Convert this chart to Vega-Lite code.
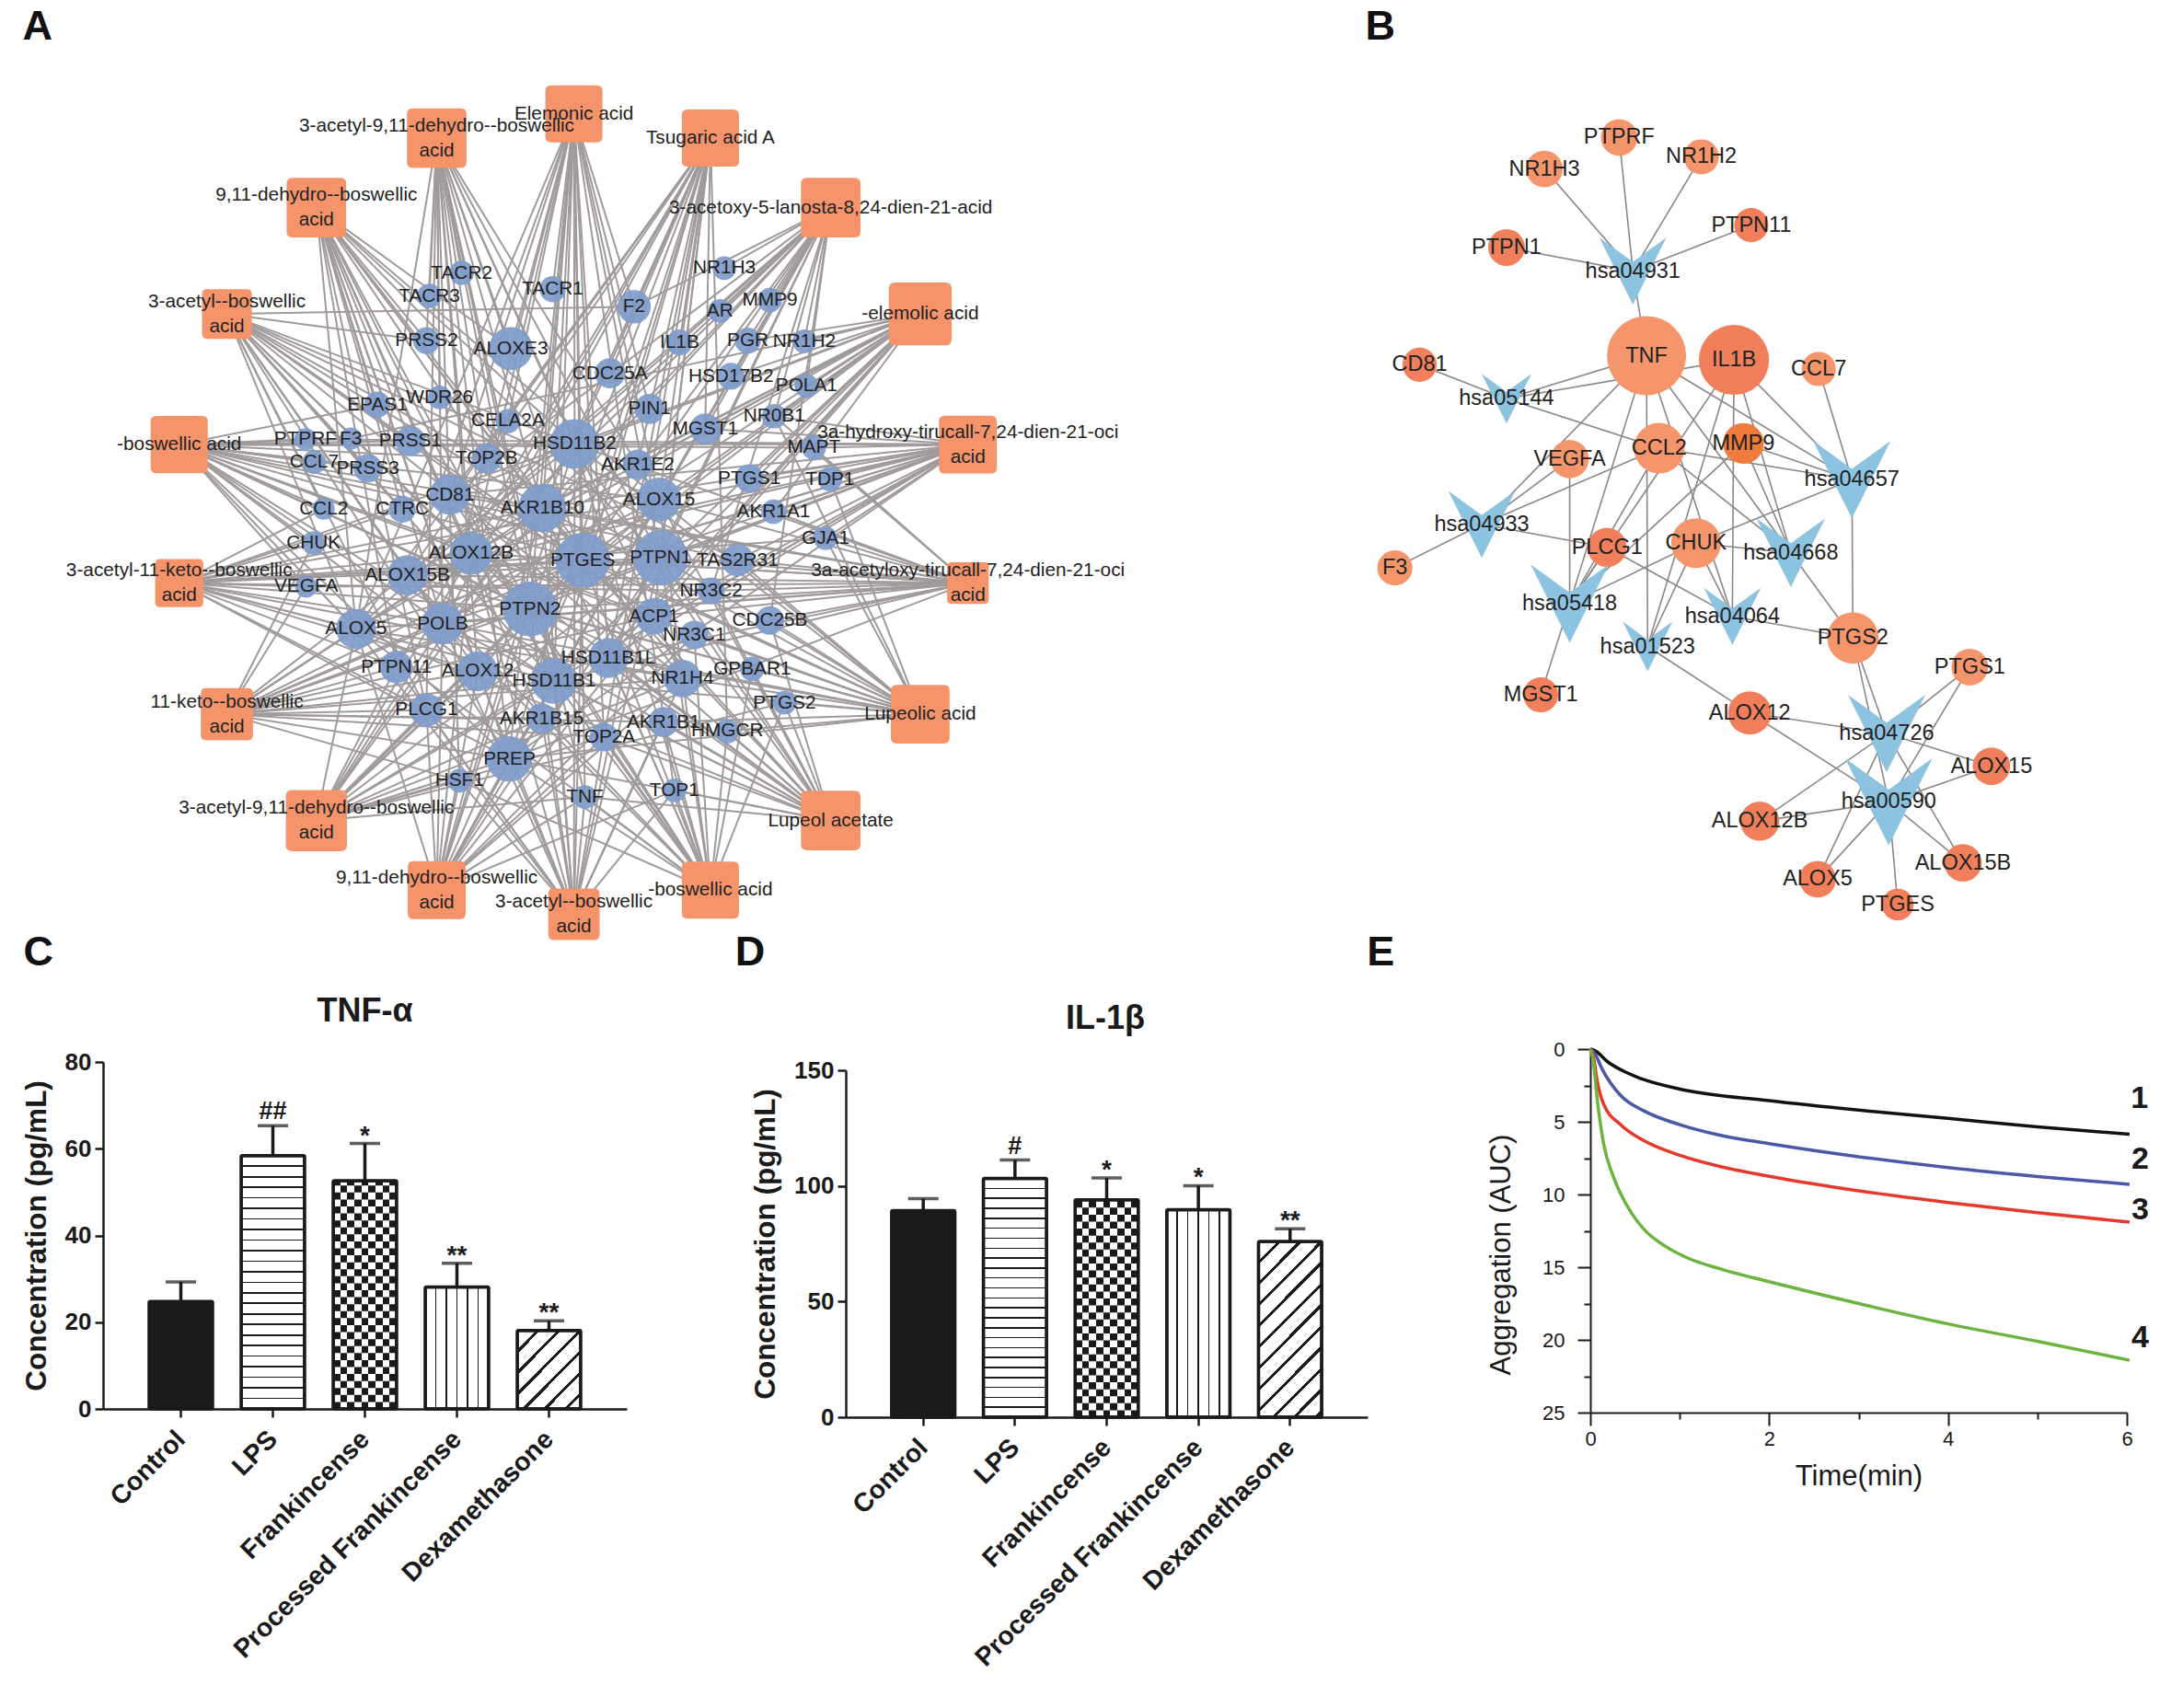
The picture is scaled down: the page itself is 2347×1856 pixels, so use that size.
{
"$schema":"https://vega.github.io/schema/vega-lite/v6.json",
"background":"white",
"padding":{"left":24,"top":7,"right":0,"bottom":0},
"columns":3,"align":"none","bounds":"flush","spacing":{"row":81,"column":238},
"resolve":{"scale":{"color":"independent"}},
"config":{"view":{"stroke":null},
"text":{"font":"Liberation Sans"},
"title":{"font":"Liberation Sans"},
"axis":{"grid":false,"domainColor":"#1a1a1a","tickColor":"#1a1a1a","labelColor":"#1a1a1a","titleColor":"#1a1a1a","labelFont":"Liberation Sans","titleFont":"Liberation Sans","domainWidth":2.5,"tickWidth":2.5,"labelLimit":500,"titleLimit":600,"labelOverlap":false,"labelFlush":false}
},
"datasets":{
"nodesA":[
{"id":"c1","name":"Elemonic acid","kind":"compound","x":781,"y":190,"deg":70},
{"id":"c2","name":"3-acetyl-9,11-dehydro--boswellic\nacid","kind":"compound","x":594,"y":230,"deg":73},
{"id":"c3","name":"Tsugaric acid A","kind":"compound","x":967,"y":230,"deg":70},
{"id":"c4","name":"9,11-dehydro--boswellic\nacid","kind":"compound","x":430,"y":345,"deg":73},
{"id":"c5","name":"3-acetoxy-5-lanosta-8,24-dien-21-acid","kind":"compound","x":1131,"y":345,"deg":73},
{"id":"c6","name":"3-acetyl--boswellic\nacid","kind":"compound","x":308,"y":521,"deg":61},
{"id":"c7","name":"-elemolic acid","kind":"compound","x":1253,"y":521,"deg":77},
{"id":"c8","name":"-boswellic acid","kind":"compound","x":243,"y":737,"deg":70},
{"id":"c9","name":"3a-hydroxy-tirucall-7,24-dien-21-oci\nacid","kind":"compound","x":1318,"y":737,"deg":71},
{"id":"c10","name":"3-acetyl-11-keto--boswellic\nacid","kind":"compound","x":243,"y":966,"deg":59},
{"id":"c11","name":"3a-acetyloxy-tirucall-7,24-dien-21-oci\nacid","kind":"compound","x":1318,"y":966,"deg":51},
{"id":"c12","name":"11-keto--boswellic\nacid","kind":"compound","x":308,"y":1183,"deg":64},
{"id":"c13","name":"Lupeolic acid","kind":"compound","x":1253,"y":1183,"deg":72},
{"id":"c14","name":"3-acetyl-9,11-dehydro--boswellic\nacid","kind":"compound","x":430,"y":1359,"deg":75},
{"id":"c15","name":"Lupeol acetate","kind":"compound","x":1131,"y":1359,"deg":73},
{"id":"c16","name":"9,11-dehydro--boswellic\nacid","kind":"compound","x":594,"y":1474,"deg":71},
{"id":"c17","name":"-boswellic acid","kind":"compound","x":967,"y":1474,"deg":70},
{"id":"c18","name":"3-acetyl--boswellic\nacid","kind":"compound","x":781,"y":1514,"deg":63},
{"id":"TACR2","name":"TACR2","kind":"gene","x":628,"y":453,"deg":30},
{"id":"TACR3","name":"TACR3","kind":"gene","x":584,"y":491,"deg":30},
{"id":"TACR1","name":"TACR1","kind":"gene","x":752,"y":480,"deg":32},
{"id":"F2","name":"F2","kind":"gene","x":863,"y":509,"deg":41},
{"id":"NR1H3","name":"NR1H3","kind":"gene","x":986,"y":445,"deg":29},
{"id":"AR","name":"AR","kind":"gene","x":980,"y":516,"deg":29},
{"id":"MMP9","name":"MMP9","kind":"gene","x":1048,"y":498,"deg":30},
{"id":"PRSS2","name":"PRSS2","kind":"gene","x":580,"y":565,"deg":33},
{"id":"ALOXE3","name":"ALOXE3","kind":"gene","x":695,"y":578,"deg":53},
{"id":"IL1B","name":"IL1B","kind":"gene","x":925,"y":568,"deg":32},
{"id":"PGR","name":"PGR","kind":"gene","x":1018,"y":565,"deg":32},
{"id":"NR1H2","name":"NR1H2","kind":"gene","x":1095,"y":566,"deg":29},
{"id":"CDC25A","name":"CDC25A","kind":"gene","x":830,"y":619,"deg":37},
{"id":"HSD17B2","name":"HSD17B2","kind":"gene","x":995,"y":624,"deg":33},
{"id":"POLA1","name":"POLA1","kind":"gene","x":1098,"y":640,"deg":29},
{"id":"EPAS1","name":"EPAS1","kind":"gene","x":513,"y":671,"deg":32},
{"id":"WDR26","name":"WDR26","kind":"gene","x":598,"y":659,"deg":29},
{"id":"PIN1","name":"PIN1","kind":"gene","x":884,"y":678,"deg":37},
{"id":"CELA2A","name":"CELA2A","kind":"gene","x":691,"y":698,"deg":30},
{"id":"HSD11B2","name":"HSD11B2","kind":"gene","x":782,"y":736,"deg":61},
{"id":"MGST1","name":"MGST1","kind":"gene","x":960,"y":711,"deg":38},
{"id":"NR0B1","name":"NR0B1","kind":"gene","x":1054,"y":690,"deg":30},
{"id":"PTPRF","name":"PTPRF","kind":"gene","x":415,"y":728,"deg":27},
{"id":"F3","name":"F3","kind":"gene","x":477,"y":727,"deg":27},
{"id":"PRSS1","name":"PRSS1","kind":"gene","x":558,"y":731,"deg":37},
{"id":"CCL7","name":"CCL7","kind":"gene","x":427,"y":766,"deg":29},
{"id":"PRSS3","name":"PRSS3","kind":"gene","x":500,"y":776,"deg":35},
{"id":"TOP2B","name":"TOP2B","kind":"gene","x":662,"y":760,"deg":37},
{"id":"AKR1E2","name":"AKR1E2","kind":"gene","x":868,"y":770,"deg":37},
{"id":"MAPT","name":"MAPT","kind":"gene","x":1108,"y":742,"deg":30},
{"id":"TDP1","name":"TDP1","kind":"gene","x":1130,"y":794,"deg":30},
{"id":"PTGS1","name":"PTGS1","kind":"gene","x":1020,"y":793,"deg":35},
{"id":"CD81","name":"CD81","kind":"gene","x":612,"y":820,"deg":49},
{"id":"AKR1B10","name":"AKR1B10","kind":"gene","x":738,"y":842,"deg":59},
{"id":"ALOX15","name":"ALOX15","kind":"gene","x":897,"y":828,"deg":54},
{"id":"CCL2","name":"CCL2","kind":"gene","x":440,"y":843,"deg":27},
{"id":"CTRC","name":"CTRC","kind":"gene","x":547,"y":844,"deg":33},
{"id":"AKR1A1","name":"AKR1A1","kind":"gene","x":1053,"y":848,"deg":30},
{"id":"GJA1","name":"GJA1","kind":"gene","x":1124,"y":892,"deg":29},
{"id":"CHUK","name":"CHUK","kind":"gene","x":426,"y":900,"deg":29},
{"id":"ALOX12B","name":"ALOX12B","kind":"gene","x":641,"y":917,"deg":53},
{"id":"PTGES","name":"PTGES","kind":"gene","x":793,"y":928,"deg":67},
{"id":"PTPN1","name":"PTPN1","kind":"gene","x":899,"y":924,"deg":67},
{"id":"TAS2R31","name":"TAS2R31","kind":"gene","x":1004,"y":928,"deg":40},
{"id":"ALOX15B","name":"ALOX15B","kind":"gene","x":554,"y":953,"deg":49},
{"id":"VEGFA","name":"VEGFA","kind":"gene","x":416,"y":972,"deg":27},
{"id":"NR3C2","name":"NR3C2","kind":"gene","x":968,"y":979,"deg":33},
{"id":"PTPN2","name":"PTPN2","kind":"gene","x":721,"y":1009,"deg":67},
{"id":"ACP1","name":"ACP1","kind":"gene","x":890,"y":1021,"deg":45},
{"id":"CDC25B","name":"CDC25B","kind":"gene","x":1048,"y":1028,"deg":35},
{"id":"POLB","name":"POLB","kind":"gene","x":602,"y":1033,"deg":51},
{"id":"ALOX5","name":"ALOX5","kind":"gene","x":484,"y":1042,"deg":49},
{"id":"NR3C1","name":"NR3C1","kind":"gene","x":945,"y":1052,"deg":35},
{"id":"HSD11B1L","name":"HSD11B1L","kind":"gene","x":828,"y":1090,"deg":49},
{"id":"GPBAR1","name":"GPBAR1","kind":"gene","x":1024,"y":1108,"deg":30},
{"id":"PTPN11","name":"PTPN11","kind":"gene","x":539,"y":1105,"deg":40},
{"id":"ALOX12","name":"ALOX12","kind":"gene","x":650,"y":1112,"deg":49},
{"id":"HSD11B1","name":"HSD11B1","kind":"gene","x":754,"y":1128,"deg":56},
{"id":"NR1H4","name":"NR1H4","kind":"gene","x":929,"y":1124,"deg":46},
{"id":"PTGS2","name":"PTGS2","kind":"gene","x":1068,"y":1164,"deg":29},
{"id":"PLCG1","name":"PLCG1","kind":"gene","x":580,"y":1176,"deg":41},
{"id":"AKR1B15","name":"AKR1B15","kind":"gene","x":737,"y":1190,"deg":37},
{"id":"AKR1B1","name":"AKR1B1","kind":"gene","x":903,"y":1196,"deg":37},
{"id":"HMGCR","name":"HMGCR","kind":"gene","x":990,"y":1211,"deg":30},
{"id":"TOP2A","name":"TOP2A","kind":"gene","x":822,"y":1221,"deg":35},
{"id":"PREP","name":"PREP","kind":"gene","x":693,"y":1257,"deg":56},
{"id":"HSF1","name":"HSF1","kind":"gene","x":625,"y":1293,"deg":29},
{"id":"TNF","name":"TNF","kind":"gene","x":796,"y":1320,"deg":29},
{"id":"TOP1","name":"TOP1","kind":"gene","x":918,"y":1309,"deg":29}
],
"edgesA":[
{"s":["c1","c2","c3","c4","c5","c6","c7","c8","c9","c10","c11","c12","c13","c14","c15","c16","c17","c18"],"t":["PTPN2","PTGES","PTPN1","HSD11B2","AKR1B10","ALOX15","ALOX12B","POLB","ALOX5","HSD11B1","PREP"]},
{"s":["c1","c3","c5","c7","c9","c11","c13","c15","c17"],"t":["CD81","ALOX15B","HSD11B1L"]},
{"s":["c2","c4","c6","c8","c10","c12","c14","c16","c18"],"t":["ALOX12","NR1H4"]},
{"s":["c1"],"t":["ALOXE3","TACR1","F2","PIN1","CELA2A","TOP1","TNF","TOP2A","AKR1B15"]},
{"s":["c2"],"t":["TACR2","TACR3","PRSS2","ALOXE3","WDR26","TOP2B","PLCG1","HSF1","TNF"]},
{"s":["c3"],"t":["F2","IL1B","CDC25A","MGST1","AKR1E2","ACP1","TOP2A","HMGCR","PTPN11"]},
{"s":["c4"],"t":["ALOXE3","PRSS2","EPAS1","PRSS1","CTRC","PTPN11","PLCG1","AKR1B15","TOP2B"]},
{"s":["c5"],"t":["NR1H3","AR","MMP9","PGR","NR1H2","HSD17B2","F2","NR0B1","CDC25B","NR3C2","POLA1","MGST1"]},
{"s":["c6"],"t":["F2","PRSS2","PRSS1","PRSS3","CTRC","CCL2","TAS2R31","PLCG1","ACP1"]},
{"s":["c7"],"t":["POLA1","NR1H2","PGR","HSD17B2","MGST1","AKR1E2","AKR1A1","PTGS1","ACP1","F3","NR0B1"]},
{"s":["c8"],"t":["F3","PTPRF","CCL7","PRSS1","PRSS3","MAPT","TOP2B","CCL2","CHUK","VEGFA","EPAS1","TAS2R31","ACP1"]},
{"s":["c9"],"t":["MAPT","TDP1","PTGS1","AKR1A1","GJA1","TAS2R31","NR3C2","PTPRF","MGST1","ACP1","NR0B1"]},
{"s":["c10"],"t":["VEGFA","CHUK","CCL2","TAS2R31","CTRC","PLCG1","PTPN11","NR3C2","GJA1"]},
{"s":["c11"],"t":["GJA1","NR3C2","TAS2R31","CDC25B","AKR1A1","VEGFA","NR0B1","MAPT","ACP1"]},
{"s":["c12"],"t":["PLCG1","PTPN11","HSF1","AKR1B15","AKR1B1","VEGFA","CHUK","TOP2A","ACP1"]},
{"s":["c13"],"t":["GPBAR1","PTGS2","CDC25B","NR3C1","HMGCR","AKR1B1","GJA1","TAS2R31","NR0B1","TDP1"]},
{"s":["c14"],"t":["HSF1","PLCG1","AKR1B15","PTPN11","TOP2A","TNF","ACP1","PTGS2"]},
{"s":["c15"],"t":["TOP1","HMGCR","PTGS2","GPBAR1","NR3C1","AKR1B1","TOP2A","CDC25B","NR3C2","TNF"]},
{"s":["c16"],"t":["HSF1","TNF","AKR1B15","PLCG1","TOP2A","TOP1","ACP1","NR3C1"]},
{"s":["c17"],"t":["TOP1","HMGCR","TNF","AKR1B1","GPBAR1","PTGS2","NR3C1","TOP2A","HSF1"]},
{"s":["c18"],"t":["TNF","HSF1","TOP1","TOP2A","AKR1B15","AKR1B1","PLCG1","PTPN11"]}
],
"nodesB":[
{"id":"NR1H3","kind":"gene","tone":"light","x":397,"y":281,"deg":45},
{"id":"PTPRF","kind":"gene","tone":"light","x":539,"y":229,"deg":45},
{"id":"NR1H2","kind":"gene","tone":"light","x":695,"y":261,"deg":43},
{"id":"PTPN11","kind":"gene","tone":"dark","x":790,"y":374,"deg":42},
{"id":"PTPN1","kind":"gene","tone":"dark","x":325,"y":411,"deg":45},
{"id":"TNF","kind":"gene","tone":"light","x":591,"y":590,"deg":97},
{"id":"IL1B","kind":"gene","tone":"dark","x":757,"y":597,"deg":86},
{"id":"CCL7","kind":"gene","tone":"light","x":918,"y":612,"deg":42},
{"id":"CD81","kind":"gene","tone":"dark","x":160,"y":605,"deg":42},
{"id":"VEGFA","kind":"gene","tone":"light","x":445,"y":761,"deg":47},
{"id":"CCL2","kind":"gene","tone":"light","x":615,"y":743,"deg":62},
{"id":"MMP9","kind":"gene","tone":"deep","x":775,"y":735,"deg":50},
{"id":"F3","kind":"gene","tone":"light","x":113,"y":941,"deg":43},
{"id":"PLCG1","kind":"gene","tone":"dark","x":516,"y":907,"deg":48},
{"id":"CHUK","kind":"gene","tone":"light","x":685,"y":900,"deg":61},
{"id":"PTGS2","kind":"gene","tone":"light","x":983,"y":1057,"deg":63},
{"id":"MGST1","kind":"gene","tone":"dark","x":390,"y":1151,"deg":43},
{"id":"ALOX12","kind":"gene","tone":"dark","x":787,"y":1181,"deg":53},
{"id":"PTGS1","kind":"gene","tone":"light","x":1205,"y":1105,"deg":45},
{"id":"ALOX15","kind":"gene","tone":"dark","x":1246,"y":1269,"deg":46},
{"id":"ALOX12B","kind":"gene","tone":"dark","x":806,"y":1360,"deg":48},
{"id":"ALOX15B","kind":"gene","tone":"dark","x":1192,"y":1429,"deg":46},
{"id":"ALOX5","kind":"gene","tone":"dark","x":916,"y":1456,"deg":45},
{"id":"PTGES","kind":"gene","tone":"dark","x":1068,"y":1498,"deg":39},
{"id":"hsa04931","kind":"pathway","x":565,"y":450,"deg":82},
{"id":"hsa05144","kind":"pathway","x":325,"y":661,"deg":61},
{"id":"hsa04657","kind":"pathway","x":981,"y":795,"deg":95},
{"id":"hsa04933","kind":"pathway","x":278,"y":869,"deg":82},
{"id":"hsa04668","kind":"pathway","x":865,"y":916,"deg":84},
{"id":"hsa05418","kind":"pathway","x":445,"y":1000,"deg":96},
{"id":"hsa04064","kind":"pathway","x":754,"y":1021,"deg":70},
{"id":"hsa01523","kind":"pathway","x":593,"y":1071,"deg":61},
{"id":"hsa04726","kind":"pathway","x":1047,"y":1215,"deg":95},
{"id":"hsa00590","kind":"pathway","x":1051,"y":1328,"deg":107}
],
"edgesB":[
{"s":"hsa04931","t":["NR1H3","PTPRF","NR1H2","PTPN11","PTPN1","TNF"]},
{"s":"hsa05144","t":["CD81","TNF","IL1B","CCL2"]},
{"s":"hsa04657","t":["IL1B","TNF","CCL7","CCL2","MMP9","CHUK","PTGS2"]},
{"s":"hsa04933","t":["VEGFA","F3","TNF","CCL2","PLCG1"]},
{"s":"hsa05418","t":["TNF","IL1B","VEGFA","CCL2","PLCG1","CHUK","MMP9","MGST1"]},
{"s":"hsa04668","t":["TNF","IL1B","CCL2","MMP9","CHUK","PTGS2"]},
{"s":"hsa04064","t":["IL1B","CHUK","PLCG1","PTGS2","TNF"]},
{"s":"hsa01523","t":["TNF","IL1B","CHUK","ALOX12"]},
{"s":"hsa04726","t":["PTGS2","PTGS1","ALOX12","ALOX15","ALOX12B","ALOX5","ALOX15B"]},
{"s":"hsa00590","t":["PTGS2","PTGS1","ALOX12","ALOX12B","ALOX15","ALOX15B","ALOX5","PTGES"]}
],
"checkC":[{"group":"Frankincense","lo":1.61,"hi":3.22},{"group":"Frankincense","lo":4.83,"hi":6.44},{"group":"Frankincense","lo":8.05,"hi":9.66},{"group":"Frankincense","lo":11.27,"hi":12.88},{"group":"Frankincense","lo":14.49,"hi":16.1},{"group":"Frankincense","lo":17.71,"hi":19.32},{"group":"Frankincense","lo":20.93,"hi":22.54},{"group":"Frankincense","lo":24.15,"hi":25.76},{"group":"Frankincense","lo":27.37,"hi":28.98},{"group":"Frankincense","lo":30.59,"hi":32.2},{"group":"Frankincense","lo":33.81,"hi":35.42},{"group":"Frankincense","lo":37.03,"hi":38.64},{"group":"Frankincense","lo":40.25,"hi":41.86},{"group":"Frankincense","lo":43.47,"hi":45.08},{"group":"Frankincense","lo":46.69,"hi":48.3},{"group":"Frankincense","lo":49.91,"hi":51.52}],
"checkD":[{"group":"Frankincense","lo":3.02,"hi":6.04},{"group":"Frankincense","lo":9.06,"hi":12.08},{"group":"Frankincense","lo":15.1,"hi":18.12},{"group":"Frankincense","lo":21.14,"hi":24.16},{"group":"Frankincense","lo":27.18,"hi":30.2},{"group":"Frankincense","lo":33.22,"hi":36.24},{"group":"Frankincense","lo":39.26,"hi":42.28},{"group":"Frankincense","lo":45.3,"hi":48.32},{"group":"Frankincense","lo":51.34,"hi":54.36},{"group":"Frankincense","lo":57.38,"hi":60.4},{"group":"Frankincense","lo":63.42,"hi":66.44},{"group":"Frankincense","lo":69.46,"hi":72.48},{"group":"Frankincense","lo":75.5,"hi":78.52},{"group":"Frankincense","lo":81.54,"hi":84.56},{"group":"Frankincense","lo":87.58,"hi":90.6}]
},
"concat":[
{"width":569,"height":1000,
"encoding":{"x":{"field":"x","type":"quantitative","scale":{"domain":[139.24,852.99],"nice":false,"zero":false},"axis":null},"y":{"field":"y","type":"quantitative","scale":{"domain":[91.34,1613.7],"nice":false,"zero":false,"reverse":true},"axis":null}},
"layer":[
{"data":{"name":"edgesA"},"transform":[{"flatten":["s"]},{"flatten":["t"]},{"lookup":"s","from":{"data":{"name":"nodesA"},"key":"id","fields":["x","y"]},"as":["sx","sy"]},{"lookup":"t","from":{"data":{"name":"nodesA"},"key":"id","fields":["x","y"]},"as":["tx","ty"]}],
"mark":{"type":"rule","color":"#a09a9b","strokeWidth":2},
"encoding":{"x":{"field":"sx","type":"quantitative"},"y":{"field":"sy","type":"quantitative"},"x2":{"field":"tx"},"y2":{"field":"ty"}}},
{"data":{"name":"nodesA"},"transform":[{"filter":"datum.kind==='gene'"}],
"mark":{"type":"point","shape":"circle","filled":true,"color":"#7f9bcb","opacity":0.92},
"encoding":{"size":{"field":"deg","type":"quantitative","scale":{"type":"pow","exponent":2,"domain":[0,100],"range":[0,7854]},"legend":null}}},
{"data":{"name":"nodesA"},"transform":[{"filter":"datum.kind==='compound'"}],
"mark":{"type":"point","shape":"M-1,-0.8Q-1,-1 -0.8,-1L0.8,-1Q1,-1 1,-0.8L1,0.8Q1,1 0.8,1L-0.8,1Q-1,1 -1,0.8Z","filled":true,"color":"#f5946b","opacity":1},
"encoding":{"size":{"field":"deg","type":"quantitative","legend":null}}},
{"data":{"name":"nodesA"},"transform":[{"filter":"indexof(datum.name,'\\n')<0"}],
"mark":{"type":"text","fontSize":20.8,"color":"#222222","align":"center","baseline":"middle"},
"encoding":{"text":{"field":"name"}}},
{"data":{"name":"nodesA"},"transform":[{"filter":"indexof(datum.name,'\\n')>=0"}],
"mark":{"type":"text","fontSize":20.8,"color":"#222222","lineBreak":"\n","lineHeight":27,"align":"center","baseline":"middle","dy":-13.5},
"encoding":{"text":{"field":"name"}}},
{"data":{"values":[{"letter":"A","x":50,"y":46},{"letter":"C","x":51,"y":1577},{"letter":"D","x":1021,"y":1577}]},
"mark":{"type":"text","fontSize":45,"fontWeight":"bold","color":"#111111","align":"center","baseline":"middle"},
"encoding":{"text":{"field":"letter"}}}
]},
{"width":571,"height":1000,"data":{"values":[]},"mark":{"type":"point","opacity":0},"encoding":{}},
{"width":583,"height":1000,
"encoding":{"x":{"field":"x","type":"quantitative","scale":{"domain":[484.2,1503.3],"nice":false,"zero":false},"axis":null},"y":{"field":"y","type":"quantitative","scale":{"domain":[91.34,1613.7],"nice":false,"zero":false,"reverse":true},"axis":null}},
"layer":[
{"data":{"name":"edgesB"},"transform":[{"flatten":["t"]},{"lookup":"s","from":{"data":{"name":"nodesB"},"key":"id","fields":["x","y"]},"as":["sx","sy"]},{"lookup":"t","from":{"data":{"name":"nodesB"},"key":"id","fields":["x","y"]},"as":["tx","ty"]}],
"mark":{"type":"rule","color":"#8c8686","strokeWidth":1.6},
"encoding":{"x":{"field":"sx","type":"quantitative"},"y":{"field":"sy","type":"quantitative"},"x2":{"field":"tx"},"y2":{"field":"ty"}}},
{"data":{"name":"nodesB"},"transform":[{"filter":"datum.kind==='gene'"}],
"mark":{"type":"point","shape":"circle","filled":true,"opacity":1},
"encoding":{"size":{"field":"deg","type":"quantitative","scale":{"type":"pow","exponent":2,"domain":[0,100],"range":[0,7854]},"legend":null},"color":{"field":"tone","type":"nominal","scale":{"domain":["light","dark","deep"],"range":["#f5956b","#f17f5b","#ef7b3d"]},"legend":null}}},
{"data":{"name":"nodesB"},"transform":[{"filter":"datum.kind==='pathway'"}],
"mark":{"type":"point","shape":"M-1,-1L0,-0.28L1,-1L0,1Z","filled":true,"color":"#8cc3e1","opacity":1},
"encoding":{"size":{"field":"deg","type":"quantitative","legend":null}}},
{"data":{"name":"nodesB"},
"mark":{"type":"text","fontSize":23.5,"color":"#222222","align":"center","baseline":"middle"},
"encoding":{"text":{"field":"id"}}},
{"data":{"values":[{"letter":"B","x":85,"y":46},{"letter":"E","x":86,"y":1577}]},
"mark":{"type":"text","fontSize":45,"fontWeight":"bold","color":"#111111","align":"center","baseline":"middle"},
"encoding":{"text":{"field":"letter"}}}
]},
{"width":569,"height":391,
"title":{"text":"TNF-α","fontSize":36,"fontWeight":"bold","color":"#1a1a1a","anchor":"middle","frame":"group","offset":22},
"data":{"values":[{"group":"Control","value":24.8,"err":29.3,"sig":""},{"group":"LPS","value":58.4,"err":65.3,"sig":"##"},{"group":"Frankincense","value":52.6,"err":61.2,"sig":"*"},{"group":"Processed Frankincense","value":28.1,"err":33.6,"sig":"**"},{"group":"Dexamethasone","value":18.1,"err":20.3,"sig":"**"}]},
"encoding":{"x":{"field":"group","type":"nominal","sort":null,"scale":{"type":"band","paddingInner":0.31,"paddingOuter":0.5},"axis":{"title":null,"labelAngle":-45,"labelAlign":"right","labelBaseline":"middle","labelFontSize":28.5,"labelFontWeight":"bold","tickSize":9,"labelPadding":19}},
"y":{"field":"value","type":"quantitative","scale":{"domain":[0,80],"range":[391,14],"nice":false},"axis":{"values":[0,20,40,60,80],"title":"Concentration (pg/mL)","titleFontSize":31.5,"titleFontWeight":"bold","labelFontSize":26,"labelFontWeight":"bold","tickSize":9,"labelPadding":4,"titlePadding":14}}},
"layer":[
{"transform":[{"filter":"datum.group==='Control'"}],"mark":{"type":"bar","color":"#1a1a1a"}},
{"transform":[{"filter":"datum.group==='LPS'"}],"mark":{"type":"bar","fill":{"gradient":"linear","x1":0,"x2":0,"y1":0,"y2":1,"stops":[{"offset":0,"color":"#fff"},{"offset":0.0387,"color":"#fff"},{"offset":0.0387,"color":"#1a1a1a"},{"offset":0.0447,"color":"#1a1a1a"},{"offset":0.0447,"color":"#fff"},{"offset":0.0803,"color":"#fff"},{"offset":0.0803,"color":"#1a1a1a"},{"offset":0.0863,"color":"#1a1a1a"},{"offset":0.0863,"color":"#fff"},{"offset":0.122,"color":"#fff"},{"offset":0.122,"color":"#1a1a1a"},{"offset":0.128,"color":"#1a1a1a"},{"offset":0.128,"color":"#fff"},{"offset":0.1637,"color":"#fff"},{"offset":0.1637,"color":"#1a1a1a"},{"offset":0.1697,"color":"#1a1a1a"},{"offset":0.1697,"color":"#fff"},{"offset":0.2053,"color":"#fff"},{"offset":0.2053,"color":"#1a1a1a"},{"offset":0.2113,"color":"#1a1a1a"},{"offset":0.2113,"color":"#fff"},{"offset":0.247,"color":"#fff"},{"offset":0.247,"color":"#1a1a1a"},{"offset":0.253,"color":"#1a1a1a"},{"offset":0.253,"color":"#fff"},{"offset":0.2887,"color":"#fff"},{"offset":0.2887,"color":"#1a1a1a"},{"offset":0.2947,"color":"#1a1a1a"},{"offset":0.2947,"color":"#fff"},{"offset":0.3303,"color":"#fff"},{"offset":0.3303,"color":"#1a1a1a"},{"offset":0.3363,"color":"#1a1a1a"},{"offset":0.3363,"color":"#fff"},{"offset":0.372,"color":"#fff"},{"offset":0.372,"color":"#1a1a1a"},{"offset":0.378,"color":"#1a1a1a"},{"offset":0.378,"color":"#fff"},{"offset":0.4137,"color":"#fff"},{"offset":0.4137,"color":"#1a1a1a"},{"offset":0.4197,"color":"#1a1a1a"},{"offset":0.4197,"color":"#fff"},{"offset":0.4553,"color":"#fff"},{"offset":0.4553,"color":"#1a1a1a"},{"offset":0.4613,"color":"#1a1a1a"},{"offset":0.4613,"color":"#fff"},{"offset":0.497,"color":"#fff"},{"offset":0.497,"color":"#1a1a1a"},{"offset":0.503,"color":"#1a1a1a"},{"offset":0.503,"color":"#fff"},{"offset":0.5387,"color":"#fff"},{"offset":0.5387,"color":"#1a1a1a"},{"offset":0.5447,"color":"#1a1a1a"},{"offset":0.5447,"color":"#fff"},{"offset":0.5803,"color":"#fff"},{"offset":0.5803,"color":"#1a1a1a"},{"offset":0.5863,"color":"#1a1a1a"},{"offset":0.5863,"color":"#fff"},{"offset":0.622,"color":"#fff"},{"offset":0.622,"color":"#1a1a1a"},{"offset":0.628,"color":"#1a1a1a"},{"offset":0.628,"color":"#fff"},{"offset":0.6637,"color":"#fff"},{"offset":0.6637,"color":"#1a1a1a"},{"offset":0.6697,"color":"#1a1a1a"},{"offset":0.6697,"color":"#fff"},{"offset":0.7053,"color":"#fff"},{"offset":0.7053,"color":"#1a1a1a"},{"offset":0.7113,"color":"#1a1a1a"},{"offset":0.7113,"color":"#fff"},{"offset":0.747,"color":"#fff"},{"offset":0.747,"color":"#1a1a1a"},{"offset":0.753,"color":"#1a1a1a"},{"offset":0.753,"color":"#fff"},{"offset":0.7887,"color":"#fff"},{"offset":0.7887,"color":"#1a1a1a"},{"offset":0.7947,"color":"#1a1a1a"},{"offset":0.7947,"color":"#fff"},{"offset":0.8303,"color":"#fff"},{"offset":0.8303,"color":"#1a1a1a"},{"offset":0.8363,"color":"#1a1a1a"},{"offset":0.8363,"color":"#fff"},{"offset":0.872,"color":"#fff"},{"offset":0.872,"color":"#1a1a1a"},{"offset":0.878,"color":"#1a1a1a"},{"offset":0.878,"color":"#fff"},{"offset":0.9137,"color":"#fff"},{"offset":0.9137,"color":"#1a1a1a"},{"offset":0.9197,"color":"#1a1a1a"},{"offset":0.9197,"color":"#fff"},{"offset":0.9553,"color":"#fff"},{"offset":0.9553,"color":"#1a1a1a"},{"offset":0.9613,"color":"#1a1a1a"},{"offset":0.9613,"color":"#fff"},{"offset":1,"color":"#fff"}]}}},
{"transform":[{"filter":"datum.group==='Frankincense'"}],"mark":{"type":"bar","fill":{"gradient":"linear","x1":0,"x2":1,"y1":0,"y2":0,"stops":[{"offset":0,"color":"#1a1a1a"},{"offset":0.111,"color":"#1a1a1a"},{"offset":0.111,"color":"#fff"},{"offset":0.222,"color":"#fff"},{"offset":0.222,"color":"#1a1a1a"},{"offset":0.333,"color":"#1a1a1a"},{"offset":0.333,"color":"#fff"},{"offset":0.444,"color":"#fff"},{"offset":0.444,"color":"#1a1a1a"},{"offset":0.556,"color":"#1a1a1a"},{"offset":0.556,"color":"#fff"},{"offset":0.667,"color":"#fff"},{"offset":0.667,"color":"#1a1a1a"},{"offset":0.778,"color":"#1a1a1a"},{"offset":0.778,"color":"#fff"},{"offset":0.889,"color":"#fff"},{"offset":0.889,"color":"#1a1a1a"},{"offset":1,"color":"#1a1a1a"}]}}},
{"data":{"name":"checkC"},"mark":{"type":"bar","fill":{"gradient":"linear","x1":0,"x2":1,"y1":0,"y2":0,"stops":[{"offset":0,"color":"#fff"},{"offset":0.111,"color":"#fff"},{"offset":0.111,"color":"#1a1a1a"},{"offset":0.222,"color":"#1a1a1a"},{"offset":0.222,"color":"#fff"},{"offset":0.333,"color":"#fff"},{"offset":0.333,"color":"#1a1a1a"},{"offset":0.444,"color":"#1a1a1a"},{"offset":0.444,"color":"#fff"},{"offset":0.556,"color":"#fff"},{"offset":0.556,"color":"#1a1a1a"},{"offset":0.667,"color":"#1a1a1a"},{"offset":0.667,"color":"#fff"},{"offset":0.778,"color":"#fff"},{"offset":0.778,"color":"#1a1a1a"},{"offset":0.889,"color":"#1a1a1a"},{"offset":0.889,"color":"#fff"},{"offset":1,"color":"#fff"}]}},"encoding":{"y":{"field":"lo","type":"quantitative"},"y2":{"field":"hi"}}},
{"transform":[{"filter":"datum.group==='Processed Frankincense'"}],"mark":{"type":"bar","fill":{"gradient":"linear","x1":0,"x2":1,"y1":0,"y2":0,"stops":[{"offset":0,"color":"#fff"},{"offset":0.156,"color":"#fff"},{"offset":0.156,"color":"#1a1a1a"},{"offset":0.178,"color":"#1a1a1a"},{"offset":0.178,"color":"#fff"},{"offset":0.322,"color":"#fff"},{"offset":0.322,"color":"#1a1a1a"},{"offset":0.344,"color":"#1a1a1a"},{"offset":0.344,"color":"#fff"},{"offset":0.489,"color":"#fff"},{"offset":0.489,"color":"#1a1a1a"},{"offset":0.511,"color":"#1a1a1a"},{"offset":0.511,"color":"#fff"},{"offset":0.656,"color":"#fff"},{"offset":0.656,"color":"#1a1a1a"},{"offset":0.678,"color":"#1a1a1a"},{"offset":0.678,"color":"#fff"},{"offset":0.822,"color":"#fff"},{"offset":0.822,"color":"#1a1a1a"},{"offset":0.844,"color":"#1a1a1a"},{"offset":0.844,"color":"#fff"},{"offset":1,"color":"#fff"}]}}},
{"transform":[{"filter":"datum.group==='Dexamethasone'"}],"mark":{"type":"bar","fill":{"gradient":"linear","x1":0,"y1":0,"x2":0.8865,"y2":1.092,"stops":[{"offset":0,"color":"#fff"},{"offset":0.134,"color":"#fff"},{"offset":0.134,"color":"#1a1a1a"},{"offset":0.164,"color":"#1a1a1a"},{"offset":0.164,"color":"#fff"},{"offset":0.283,"color":"#fff"},{"offset":0.283,"color":"#1a1a1a"},{"offset":0.313,"color":"#1a1a1a"},{"offset":0.313,"color":"#fff"},{"offset":0.432,"color":"#fff"},{"offset":0.432,"color":"#1a1a1a"},{"offset":0.462,"color":"#1a1a1a"},{"offset":0.462,"color":"#fff"},{"offset":0.581,"color":"#fff"},{"offset":0.581,"color":"#1a1a1a"},{"offset":0.611,"color":"#1a1a1a"},{"offset":0.611,"color":"#fff"},{"offset":0.73,"color":"#fff"},{"offset":0.73,"color":"#1a1a1a"},{"offset":0.76,"color":"#1a1a1a"},{"offset":0.76,"color":"#fff"},{"offset":0.879,"color":"#fff"},{"offset":0.879,"color":"#1a1a1a"},{"offset":0.909,"color":"#1a1a1a"},{"offset":0.909,"color":"#fff"},{"offset":1,"color":"#fff"}]}}},
{"mark":{"type":"bar","fill":"transparent","stroke":"#1a1a1a","strokeWidth":3.5,"cornerRadius":1.5}},
{"mark":{"type":"rule","color":"#1a1a1a","strokeWidth":3.5},"encoding":{"y":{"field":"value","type":"quantitative"},"y2":{"field":"err"}}},
{"mark":{"type":"tick","size":33,"thickness":3.5,"color":"#1a1a1a"},"encoding":{"y":{"field":"err","type":"quantitative"}}},
{"transform":[{"filter":"indexof(datum.sig,'#')>=0"}],"mark":{"type":"text","fontSize":27,"fontWeight":"bold","baseline":"alphabetic","dy":-7,"color":"#1a1a1a"},"encoding":{"y":{"field":"err","type":"quantitative"},"text":{"field":"sig"}}},
{"transform":[{"filter":"indexof(datum.sig,'*')>=0"}],"mark":{"type":"text","fontSize":28,"fontWeight":"bold","baseline":"alphabetic","dy":0,"color":"#1a1a1a"},"encoding":{"y":{"field":"err","type":"quantitative"},"text":{"field":"sig"}}}
]},
{"width":571,"height":400,
"title":{"text":"IL-1β","fontSize":36,"fontWeight":"bold","color":"#1a1a1a","anchor":"start","frame":"group","offset":14,"dx":239},
"data":{"values":[{"group":"Control","value":89.3,"err":94.5,"sig":""},{"group":"LPS","value":103.2,"err":111.2,"sig":"#"},{"group":"Frankincense","value":94,"err":103.4,"sig":"*"},{"group":"Processed Frankincense","value":89.7,"err":100.1,"sig":"*"},{"group":"Dexamethasone","value":76,"err":81.5,"sig":"**"}]},
"encoding":{"x":{"field":"group","type":"nominal","sort":null,"scale":{"type":"band","paddingInner":0.31,"paddingOuter":0.5,"range":[0,567]},"axis":{"title":null,"labelAngle":-45,"labelAlign":"right","labelBaseline":"middle","labelFontSize":28.5,"labelFontWeight":"bold","tickSize":9,"labelPadding":19}},
"y":{"field":"value","type":"quantitative","scale":{"domain":[0,150],"range":[400,23],"nice":false},"axis":{"values":[0,50,100,150],"title":"Concentration (pg/mL)","titleFontSize":31.5,"titleFontWeight":"bold","labelFontSize":26,"labelFontWeight":"bold","tickSize":9,"labelPadding":4,"titlePadding":14}}},
"layer":[
{"transform":[{"filter":"datum.group==='Control'"}],"mark":{"type":"bar","color":"#1a1a1a"}},
{"transform":[{"filter":"datum.group==='LPS'"}],"mark":{"type":"bar","fill":{"gradient":"linear","x1":0,"x2":0,"y1":0,"y2":1,"stops":[{"offset":0,"color":"#fff"},{"offset":0.0387,"color":"#fff"},{"offset":0.0387,"color":"#1a1a1a"},{"offset":0.0447,"color":"#1a1a1a"},{"offset":0.0447,"color":"#fff"},{"offset":0.0803,"color":"#fff"},{"offset":0.0803,"color":"#1a1a1a"},{"offset":0.0863,"color":"#1a1a1a"},{"offset":0.0863,"color":"#fff"},{"offset":0.122,"color":"#fff"},{"offset":0.122,"color":"#1a1a1a"},{"offset":0.128,"color":"#1a1a1a"},{"offset":0.128,"color":"#fff"},{"offset":0.1637,"color":"#fff"},{"offset":0.1637,"color":"#1a1a1a"},{"offset":0.1697,"color":"#1a1a1a"},{"offset":0.1697,"color":"#fff"},{"offset":0.2053,"color":"#fff"},{"offset":0.2053,"color":"#1a1a1a"},{"offset":0.2113,"color":"#1a1a1a"},{"offset":0.2113,"color":"#fff"},{"offset":0.247,"color":"#fff"},{"offset":0.247,"color":"#1a1a1a"},{"offset":0.253,"color":"#1a1a1a"},{"offset":0.253,"color":"#fff"},{"offset":0.2887,"color":"#fff"},{"offset":0.2887,"color":"#1a1a1a"},{"offset":0.2947,"color":"#1a1a1a"},{"offset":0.2947,"color":"#fff"},{"offset":0.3303,"color":"#fff"},{"offset":0.3303,"color":"#1a1a1a"},{"offset":0.3363,"color":"#1a1a1a"},{"offset":0.3363,"color":"#fff"},{"offset":0.372,"color":"#fff"},{"offset":0.372,"color":"#1a1a1a"},{"offset":0.378,"color":"#1a1a1a"},{"offset":0.378,"color":"#fff"},{"offset":0.4137,"color":"#fff"},{"offset":0.4137,"color":"#1a1a1a"},{"offset":0.4197,"color":"#1a1a1a"},{"offset":0.4197,"color":"#fff"},{"offset":0.4553,"color":"#fff"},{"offset":0.4553,"color":"#1a1a1a"},{"offset":0.4613,"color":"#1a1a1a"},{"offset":0.4613,"color":"#fff"},{"offset":0.497,"color":"#fff"},{"offset":0.497,"color":"#1a1a1a"},{"offset":0.503,"color":"#1a1a1a"},{"offset":0.503,"color":"#fff"},{"offset":0.5387,"color":"#fff"},{"offset":0.5387,"color":"#1a1a1a"},{"offset":0.5447,"color":"#1a1a1a"},{"offset":0.5447,"color":"#fff"},{"offset":0.5803,"color":"#fff"},{"offset":0.5803,"color":"#1a1a1a"},{"offset":0.5863,"color":"#1a1a1a"},{"offset":0.5863,"color":"#fff"},{"offset":0.622,"color":"#fff"},{"offset":0.622,"color":"#1a1a1a"},{"offset":0.628,"color":"#1a1a1a"},{"offset":0.628,"color":"#fff"},{"offset":0.6637,"color":"#fff"},{"offset":0.6637,"color":"#1a1a1a"},{"offset":0.6697,"color":"#1a1a1a"},{"offset":0.6697,"color":"#fff"},{"offset":0.7053,"color":"#fff"},{"offset":0.7053,"color":"#1a1a1a"},{"offset":0.7113,"color":"#1a1a1a"},{"offset":0.7113,"color":"#fff"},{"offset":0.747,"color":"#fff"},{"offset":0.747,"color":"#1a1a1a"},{"offset":0.753,"color":"#1a1a1a"},{"offset":0.753,"color":"#fff"},{"offset":0.7887,"color":"#fff"},{"offset":0.7887,"color":"#1a1a1a"},{"offset":0.7947,"color":"#1a1a1a"},{"offset":0.7947,"color":"#fff"},{"offset":0.8303,"color":"#fff"},{"offset":0.8303,"color":"#1a1a1a"},{"offset":0.8363,"color":"#1a1a1a"},{"offset":0.8363,"color":"#fff"},{"offset":0.872,"color":"#fff"},{"offset":0.872,"color":"#1a1a1a"},{"offset":0.878,"color":"#1a1a1a"},{"offset":0.878,"color":"#fff"},{"offset":0.9137,"color":"#fff"},{"offset":0.9137,"color":"#1a1a1a"},{"offset":0.9197,"color":"#1a1a1a"},{"offset":0.9197,"color":"#fff"},{"offset":0.9553,"color":"#fff"},{"offset":0.9553,"color":"#1a1a1a"},{"offset":0.9613,"color":"#1a1a1a"},{"offset":0.9613,"color":"#fff"},{"offset":1,"color":"#fff"}]}}},
{"transform":[{"filter":"datum.group==='Frankincense'"}],"mark":{"type":"bar","fill":{"gradient":"linear","x1":0,"x2":1,"y1":0,"y2":0,"stops":[{"offset":0,"color":"#1a1a1a"},{"offset":0.111,"color":"#1a1a1a"},{"offset":0.111,"color":"#fff"},{"offset":0.222,"color":"#fff"},{"offset":0.222,"color":"#1a1a1a"},{"offset":0.333,"color":"#1a1a1a"},{"offset":0.333,"color":"#fff"},{"offset":0.444,"color":"#fff"},{"offset":0.444,"color":"#1a1a1a"},{"offset":0.556,"color":"#1a1a1a"},{"offset":0.556,"color":"#fff"},{"offset":0.667,"color":"#fff"},{"offset":0.667,"color":"#1a1a1a"},{"offset":0.778,"color":"#1a1a1a"},{"offset":0.778,"color":"#fff"},{"offset":0.889,"color":"#fff"},{"offset":0.889,"color":"#1a1a1a"},{"offset":1,"color":"#1a1a1a"}]}}},
{"data":{"name":"checkD"},"mark":{"type":"bar","fill":{"gradient":"linear","x1":0,"x2":1,"y1":0,"y2":0,"stops":[{"offset":0,"color":"#fff"},{"offset":0.111,"color":"#fff"},{"offset":0.111,"color":"#1a1a1a"},{"offset":0.222,"color":"#1a1a1a"},{"offset":0.222,"color":"#fff"},{"offset":0.333,"color":"#fff"},{"offset":0.333,"color":"#1a1a1a"},{"offset":0.444,"color":"#1a1a1a"},{"offset":0.444,"color":"#fff"},{"offset":0.556,"color":"#fff"},{"offset":0.556,"color":"#1a1a1a"},{"offset":0.667,"color":"#1a1a1a"},{"offset":0.667,"color":"#fff"},{"offset":0.778,"color":"#fff"},{"offset":0.778,"color":"#1a1a1a"},{"offset":0.889,"color":"#1a1a1a"},{"offset":0.889,"color":"#fff"},{"offset":1,"color":"#fff"}]}},"encoding":{"y":{"field":"lo","type":"quantitative"},"y2":{"field":"hi"}}},
{"transform":[{"filter":"datum.group==='Processed Frankincense'"}],"mark":{"type":"bar","fill":{"gradient":"linear","x1":0,"x2":1,"y1":0,"y2":0,"stops":[{"offset":0,"color":"#fff"},{"offset":0.156,"color":"#fff"},{"offset":0.156,"color":"#1a1a1a"},{"offset":0.178,"color":"#1a1a1a"},{"offset":0.178,"color":"#fff"},{"offset":0.322,"color":"#fff"},{"offset":0.322,"color":"#1a1a1a"},{"offset":0.344,"color":"#1a1a1a"},{"offset":0.344,"color":"#fff"},{"offset":0.489,"color":"#fff"},{"offset":0.489,"color":"#1a1a1a"},{"offset":0.511,"color":"#1a1a1a"},{"offset":0.511,"color":"#fff"},{"offset":0.656,"color":"#fff"},{"offset":0.656,"color":"#1a1a1a"},{"offset":0.678,"color":"#1a1a1a"},{"offset":0.678,"color":"#fff"},{"offset":0.822,"color":"#fff"},{"offset":0.822,"color":"#1a1a1a"},{"offset":0.844,"color":"#1a1a1a"},{"offset":0.844,"color":"#fff"},{"offset":1,"color":"#fff"}]}}},
{"transform":[{"filter":"datum.group==='Dexamethasone'"}],"mark":{"type":"bar","fill":{"gradient":"linear","x1":0,"y1":0,"x2":0.435,"y2":1.204,"stops":[{"offset":0,"color":"#fff"},{"offset":0.08,"color":"#fff"},{"offset":0.08,"color":"#1a1a1a"},{"offset":0.097,"color":"#1a1a1a"},{"offset":0.097,"color":"#fff"},{"offset":0.168,"color":"#fff"},{"offset":0.168,"color":"#1a1a1a"},{"offset":0.185,"color":"#1a1a1a"},{"offset":0.185,"color":"#fff"},{"offset":0.257,"color":"#fff"},{"offset":0.257,"color":"#1a1a1a"},{"offset":0.274,"color":"#1a1a1a"},{"offset":0.274,"color":"#fff"},{"offset":0.345,"color":"#fff"},{"offset":0.345,"color":"#1a1a1a"},{"offset":0.362,"color":"#1a1a1a"},{"offset":0.362,"color":"#fff"},{"offset":0.434,"color":"#fff"},{"offset":0.434,"color":"#1a1a1a"},{"offset":0.451,"color":"#1a1a1a"},{"offset":0.451,"color":"#fff"},{"offset":0.522,"color":"#fff"},{"offset":0.522,"color":"#1a1a1a"},{"offset":0.539,"color":"#1a1a1a"},{"offset":0.539,"color":"#fff"},{"offset":0.611,"color":"#fff"},{"offset":0.611,"color":"#1a1a1a"},{"offset":0.628,"color":"#1a1a1a"},{"offset":0.628,"color":"#fff"},{"offset":0.699,"color":"#fff"},{"offset":0.699,"color":"#1a1a1a"},{"offset":0.716,"color":"#1a1a1a"},{"offset":0.716,"color":"#fff"},{"offset":0.788,"color":"#fff"},{"offset":0.788,"color":"#1a1a1a"},{"offset":0.805,"color":"#1a1a1a"},{"offset":0.805,"color":"#fff"},{"offset":0.876,"color":"#fff"},{"offset":0.876,"color":"#1a1a1a"},{"offset":0.893,"color":"#1a1a1a"},{"offset":0.893,"color":"#fff"},{"offset":0.965,"color":"#fff"},{"offset":0.965,"color":"#1a1a1a"},{"offset":0.982,"color":"#1a1a1a"},{"offset":0.982,"color":"#fff"},{"offset":1,"color":"#fff"}]}}},
{"mark":{"type":"bar","fill":"transparent","stroke":"#1a1a1a","strokeWidth":3.5,"cornerRadius":1.5}},
{"mark":{"type":"rule","color":"#1a1a1a","strokeWidth":3.5},"encoding":{"y":{"field":"value","type":"quantitative"},"y2":{"field":"err"}}},
{"mark":{"type":"tick","size":33,"thickness":3.5,"color":"#1a1a1a"},"encoding":{"y":{"field":"err","type":"quantitative"}}},
{"transform":[{"filter":"indexof(datum.sig,'#')>=0"}],"mark":{"type":"text","fontSize":27,"fontWeight":"bold","baseline":"alphabetic","dy":-7,"color":"#1a1a1a"},"encoding":{"y":{"field":"err","type":"quantitative"},"text":{"field":"sig"}}},
{"transform":[{"filter":"indexof(datum.sig,'*')>=0"}],"mark":{"type":"text","fontSize":28,"fontWeight":"bold","baseline":"alphabetic","dy":0,"color":"#1a1a1a"},"encoding":{"y":{"field":"err","type":"quantitative"},"text":{"field":"sig"}}}
]},
{"width":583,"height":395,
"encoding":{"x":{"field":"t","type":"quantitative","scale":{"domain":[0,6],"nice":false},"axis":{"values":[0,1,2,3,4,5,6],"title":"Time(min)","titleFontSize":31,"titleFontWeight":"normal","labelFontSize":22,"tickWidth":2,"domainWidth":2,"tickSize":{"condition":{"test":"datum.value % 2 === 0","value":14},"value":7},"labelExpr":"datum.value % 2 === 0 ? datum.label : ''","labelPadding":4,"titlePadding":15}},
"y":{"field":"auc","type":"quantitative","scale":{"domain":[0,25],"reverse":true,"nice":false},"axis":{"values":[0,2.5,5,7.5,10,12.5,15,17.5,20,22.5,25],"title":"Aggregation (AUC)","titleFontSize":31,"titleFontWeight":"normal","titleY":223,"labelFontSize":22,"tickWidth":2,"domainWidth":2,"tickSize":{"condition":{"test":"datum.value % 5 === 0","value":14},"value":7},"labelExpr":"datum.value % 5 === 0 ? datum.label : ''","labelPadding":14,"titlePadding":28}}},
"layer":[
{"data":{"values":[
{"series":"1","t":0,"auc":0},{"series":"1","t":0.05,"auc":0.1},{"series":"1","t":0.2,"auc":0.9},{"series":"1","t":0.4,"auc":1.6},{"series":"1","t":0.6,"auc":2.1},{"series":"1","t":1,"auc":2.75},{"series":"1","t":2,"auc":3.55},{"series":"1","t":3,"auc":4.2},{"series":"1","t":4,"auc":4.77},{"series":"1","t":5,"auc":5.35},{"series":"1","t":6.03,"auc":5.86},
{"series":"2","t":0,"auc":0},{"series":"2","t":0.05,"auc":0.3},{"series":"2","t":0.13,"auc":1.35},{"series":"2","t":0.34,"auc":3.2},{"series":"2","t":0.6,"auc":4.25},{"series":"2","t":1,"auc":5.2},{"series":"2","t":1.47,"auc":5.95},{"series":"2","t":2,"auc":6.5},{"series":"2","t":3,"auc":7.4},{"series":"2","t":4,"auc":8.15},{"series":"2","t":5,"auc":8.76},{"series":"2","t":6.03,"auc":9.3},
{"series":"3","t":0,"auc":0},{"series":"3","t":0.03,"auc":0.4},{"series":"3","t":0.08,"auc":2.3},{"series":"3","t":0.15,"auc":3.8},{"series":"3","t":0.34,"auc":5.2},{"series":"3","t":0.6,"auc":6.3},{"series":"3","t":1,"auc":7.3},{"series":"3","t":1.47,"auc":8.1},{"series":"3","t":2,"auc":8.75},{"series":"3","t":3,"auc":9.75},{"series":"3","t":4,"auc":10.55},{"series":"3","t":5,"auc":11.25},{"series":"3","t":6.03,"auc":11.9},
{"series":"4","t":0,"auc":0},{"series":"4","t":0.03,"auc":0.7},{"series":"4","t":0.08,"auc":3.6},{"series":"4","t":0.15,"auc":6.55},{"series":"4","t":0.26,"auc":8.8},{"series":"4","t":0.39,"auc":10.55},{"series":"4","t":0.6,"auc":12.4},{"series":"4","t":0.85,"auc":13.6},{"series":"4","t":1.1,"auc":14.4},{"series":"4","t":1.47,"auc":15.15},{"series":"4","t":2,"auc":16},{"series":"4","t":3,"auc":17.5},{"series":"4","t":4,"auc":18.9},{"series":"4","t":5,"auc":20.1},{"series":"4","t":6.03,"auc":21.4}
]},"mark":{"type":"line","interpolate":"monotone","strokeWidth":3.5},"encoding":{"color":{"field":"series","type":"nominal","scale":{"domain":["1","2","3","4"],"range":["#111111","#4a58a6","#e5392d","#6cb33f"]},"legend":null}}},
{"data":{"values":[{"n":"1","t":6.14,"auc":3.4},{"n":"2","t":6.15,"auc":7.6},{"n":"3","t":6.15,"auc":11.1},{"n":"4","t":6.15,"auc":19.9}]},"mark":{"type":"text","fontWeight":"bold","fontSize":34,"color":"#1a1a1a","baseline":"middle"},"encoding":{"text":{"field":"n"}}}
]}
]
}
